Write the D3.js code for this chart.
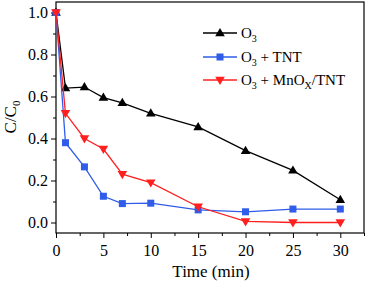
<!DOCTYPE html>
<html><head><meta charset="utf-8">
<script src="https://cdn.jsdelivr.net/npm/d3@7"></script>
<style>body{margin:0;background:#fff}svg{display:block}text{font-family:"Liberation Serif","Times New Roman",serif;fill:#000}</style>
</head><body>
<script>
const times = [0, 1, 3, 5, 7, 10, 15, 20, 25, 30];
const o3 = [1.0, 0.64, 0.645, 0.595, 0.57, 0.52, 0.455, 0.342, 0.248, 0.108];
const o3Tnt = [1.0, 0.38, 0.265, 0.125, 0.09, 0.092, 0.06, 0.051, 0.064, 0.064];
const o3MnoxTnt = [1.0, 0.52, 0.40, 0.35, 0.23, 0.19, 0.075, 0.005, 0.0, 0.0];
const xTicks = [0, 5, 10, 15, 20, 25, 30];
const yTicks = [0.0, 0.2, 0.4, 0.6, 0.8, 1.0];

const W = 367, H = 283;
const m = {l: 56, r: 3, t: 2, b: 50};
const svg = d3.select("body").append("svg").attr("width", W).attr("height", H);
const x = d3.scaleLinear().domain([0, 32.5]).range([m.l, W - m.r]);
const y = d3.scaleLinear().domain([-0.05, 1.05]).range([H - m.b, m.t]);

const g = svg.append("g");
const xMinor = d3.range(2.5, 33, 5);
const yMinor = d3.range(0.1, 1.0, 0.2);
g.append("g").attr("transform", `translate(0,${H - m.b})`)
  .call(d3.axisBottom(x).tickValues(xMinor).tickSize(3).tickFormat(""));
g.append("g").attr("transform", `translate(${m.l},0)`)
  .call(d3.axisLeft(y).tickValues(yMinor).tickSize(3).tickFormat(""));
g.append("g").attr("transform", `translate(0,${H - m.b})`)
  .call(d3.axisBottom(x).tickValues(xTicks).tickSize(5).tickPadding(7).tickFormat(d3.format("d")));
g.append("g").attr("transform", `translate(${m.l},0)`)
  .call(d3.axisLeft(y).tickValues(yTicks).tickSize(5).tickPadding(3).tickFormat(d3.format(".1f")));
svg.selectAll(".tick text").style("font-family", '"Liberation Serif",serif').style("font-size", "16px");
svg.selectAll(".tick line").attr("stroke", "#000");
svg.selectAll(".domain").remove();
svg.append("rect").attr("x", m.l).attr("y", m.t).attr("width", W - m.r - m.l).attr("height", H - m.b - m.t)
  .attr("fill", "none").attr("stroke", "#000").attr("stroke-width", 1.2);

const series = [
  {vals: o3, color: "#000000", sym: "up"},
  {vals: o3Tnt, color: "#2f5ce8", sym: "sq"},
  {vals: o3MnoxTnt, color: "#ff1f1f", sym: "down"}
];
const triUp = "M0,-5L4.8,3.2L-4.8,3.2Z";
const triDown = "M0,5L4.8,-3.2L-4.8,-3.2Z";
function marker(sel, s) {
  if (s.sym === "sq") return sel.append("rect").attr("x", -3.5).attr("y", -3.5).attr("width", 7).attr("height", 7).attr("fill", s.color);
  return sel.append("path").attr("d", s.sym === "up" ? triUp : triDown).attr("fill", s.color);
}
const line = d3.line().x((d, i) => x(times[i])).y(d => y(d));
series.forEach(s => {
  svg.append("path").datum(s.vals).attr("d", line).attr("fill", "none").attr("stroke", s.color).attr("stroke-width", 1.3);
  s.vals.forEach((v, i) => {
    marker(svg.append("g").attr("transform", `translate(${x(times[i])},${y(v)})`), s);
  });
});

const legRows = [
  {s: series[0], parts: [["O", 0], ["3", 1]]},
  {s: series[1], parts: [["O", 0], ["3", 1], [" + TNT", 0]]},
  {s: series[2], parts: [["O", 0], ["3", 1], [" + MnO", 0], ["X", 1], ["/TNT", 0]]}
];
const legY = [33, 57, 80];
legRows.forEach((r, i) => {
  const ly = legY[i];
  svg.append("line").attr("x1", 203).attr("x2", 237).attr("y1", ly).attr("y2", ly).attr("stroke", r.s.color).attr("stroke-width", 1.3);
  marker(svg.append("g").attr("transform", `translate(220,${ly})`), r.s);
  const t = svg.append("text").attr("x", 241).attr("y", ly + 5).style("font-size", "15px");
  r.parts.forEach((p, k) => {
    const prev = k > 0 ? r.parts[k - 1] : null;
    let dy = 0;
    if (p[1] && !(prev && prev[1])) dy = 4;
    if (!p[1] && prev && prev[1]) dy = -4;
    const ts = t.append("tspan").attr("dy", dy).text(p[0]);
    if (p[1]) ts.style("font-size", "10px");
  });
});

svg.append("text").attr("x", 211).attr("y", 277).attr("text-anchor", "middle").style("font-size", "17px").text("Time (min)");
const yt = svg.append("text").attr("transform", `translate(16,117) rotate(-90)`).attr("text-anchor", "middle").style("font-size", "17px");
yt.append("tspan").text("C/C");
yt.append("tspan").attr("dy", 4).style("font-size", "11px").text("0");
</script>
</body></html>
